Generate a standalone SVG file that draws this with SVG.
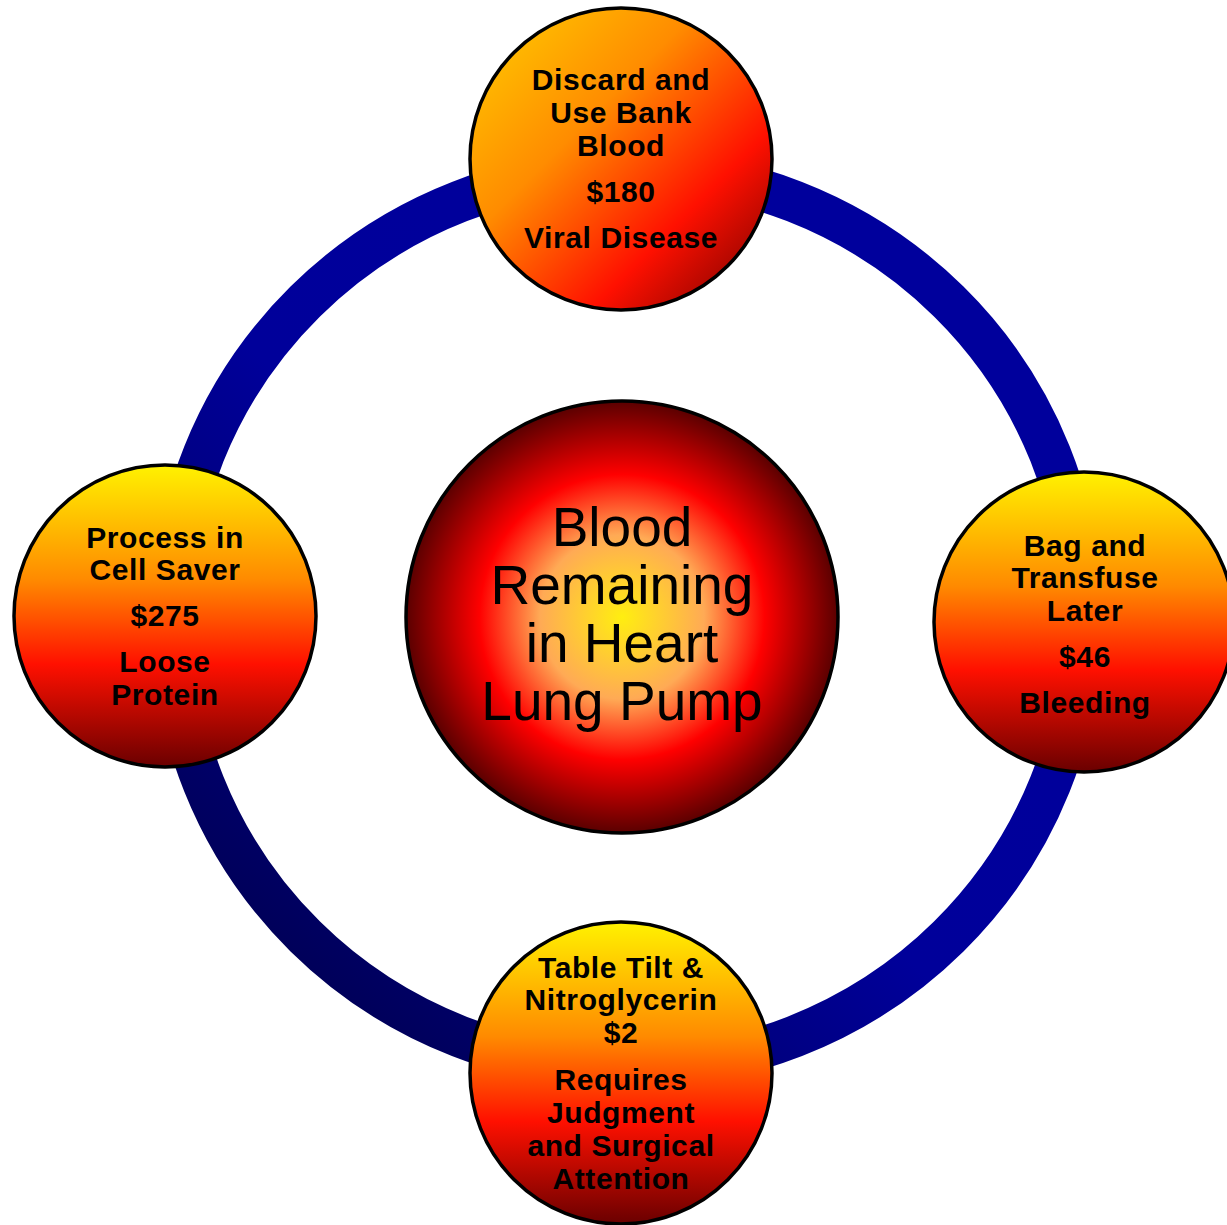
<svg xmlns="http://www.w3.org/2000/svg" width="1227" height="1225" viewBox="0 0 1227 1225">
<defs>
<linearGradient id="ringGrad" gradientUnits="userSpaceOnUse" x1="900" y1="300" x2="250" y2="1000">
<stop offset="0" stop-color="#00009c"/>
<stop offset="0.5" stop-color="#00009a"/>
<stop offset="1" stop-color="#000050"/>
</linearGradient>
<linearGradient id="vGrad" x1="0" y1="0" x2="0" y2="1">
<stop offset="0" stop-color="#fff200"/>
<stop offset="0.38" stop-color="#ff8a00"/>
<stop offset="0.66" stop-color="#ff1000"/>
<stop offset="1" stop-color="#6a0000"/>
</linearGradient>
<linearGradient id="dGrad" x1="0" y1="0" x2="1" y2="1">
<stop offset="0" stop-color="#ffd000"/>
<stop offset="0.38" stop-color="#ff8c00"/>
<stop offset="0.7" stop-color="#ff1000"/>
<stop offset="1" stop-color="#6a0000"/>
</linearGradient>
<radialGradient id="cGrad" cx="0.5" cy="0.5" r="0.5">
<stop offset="0" stop-color="#ffee10"/>
<stop offset="0.38" stop-color="#ffaa55"/>
<stop offset="0.66" stop-color="#ff0000"/>
<stop offset="1" stop-color="#5a0000"/>
</radialGradient>
<style>
.node{stroke:#000;stroke-width:3.5}
.t{font-family:"Liberation Sans",Arial,sans-serif;font-weight:bold;font-size:30px;fill:#000;text-anchor:middle;letter-spacing:0.6px}
.c{font-family:"Liberation Sans",Arial,sans-serif;font-size:55px;fill:#000;text-anchor:middle}
</style>
</defs>
<rect width="1227" height="1225" fill="#fff"/>
<g id="connectors">
<ellipse cx="627" cy="619" rx="455" ry="449" fill="none" stroke="url(#ringGrad)" stroke-width="42"/>
</g>
<g id="center">
<circle cx="622" cy="617" r="216" class="node" fill="url(#cGrad)"/>
<text class="c" x="622" y="546">Blood</text>
<text class="c" x="622" y="604">Remaining</text>
<text class="c" x="622" y="662">in Heart</text>
<text class="c" x="622" y="720">Lung Pump</text>
</g>
<g id="top">
<circle cx="621" cy="159" r="151" class="node" fill="url(#dGrad)"/>
<text class="t" x="621" y="90">Discard and</text>
<text class="t" x="621" y="123">Use Bank</text>
<text class="t" x="621" y="156">Blood</text>
<text class="t" x="621" y="202">$180</text>
<text class="t" x="621" y="248">Viral Disease</text>
</g>
<g id="left">
<circle cx="165" cy="616" r="151" class="node" fill="url(#vGrad)"/>
<text class="t" x="165" y="548">Process in</text>
<text class="t" x="165" y="580">Cell Saver</text>
<text class="t" x="165" y="626">$275</text>
<text class="t" x="165" y="672">Loose</text>
<text class="t" x="165" y="705">Protein</text>
</g>
<g id="right">
<circle cx="1084" cy="622" r="150" class="node" fill="url(#vGrad)"/>
<text class="t" x="1085" y="556">Bag and</text>
<text class="t" x="1085" y="588">Transfuse</text>
<text class="t" x="1085" y="621">Later</text>
<text class="t" x="1085" y="667">$46</text>
<text class="t" x="1085" y="713">Bleeding</text>
</g>
<g id="bottom">
<circle cx="621" cy="1073" r="151" class="node" fill="url(#vGrad)"/>
<text class="t" x="621" y="978">Table Tilt &amp;</text>
<text class="t" x="621" y="1010">Nitroglycerin</text>
<text class="t" x="621" y="1043">$2</text>
<text class="t" x="621" y="1090">Requires</text>
<text class="t" x="621" y="1123">Judgment</text>
<text class="t" x="621" y="1156">and Surgical</text>
<text class="t" x="621" y="1189">Attention</text>
</g>
</svg>
